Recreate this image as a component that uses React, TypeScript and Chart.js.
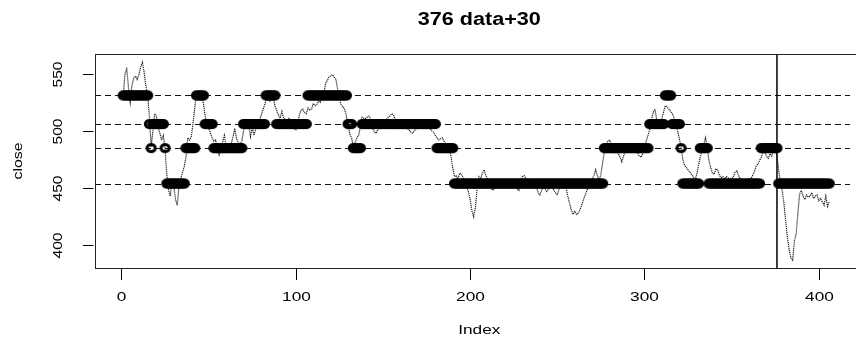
import React, { useEffect, useRef } from "react";
import { Chart, registerables } from "chart.js";

Chart.register(...registerables);

const TITLE = "376 data+30";
const X_LABEL = "Index";
const Y_LABEL = "close";
const xTicks = [0, 100, 200, 300, 400];
const yTicks = [400, 450, 500, 550];
const levels = [531, 506, 485, 454];
const splitIndex = 376;

const close = [
  531, 550, 554, 538, 525, 540, 546, 548, 545, 549,
  556, 560, 551, 539, 531, 512, 486, 500, 515, 513,
  503, 498, 492, 496, 484, 462, 448, 443, 457, 452,
  440, 435, 452, 458, 464, 469, 477, 494, 492, 495,
  506, 520, 532, 531, 530, 532, 524, 513, 505, 502,
  498, 494, 491, 492, 484, 479, 483, 490, 496, 487,
  485, 484, 489, 495, 502, 493, 490, 488, 491, 500,
  506, 509, 505, 495, 503, 496, 502, 506, 508, 513,
  518, 522, 527, 528, 526, 527, 530, 522, 518, 514,
  511, 517, 511, 510, 509, 511, 508, 505, 502, 501,
  506, 514, 518, 519, 516, 515, 520, 518, 519, 524,
  522, 523, 526, 525, 528, 532, 541, 544, 547, 548,
  549, 547, 545, 536, 528, 523, 521, 519, 513, 505,
  497, 494, 486, 490, 494, 496, 503, 512, 511, 511,
  512, 513, 510, 503, 499, 498, 501, 504, 507, 507,
  509, 510, 512, 513, 515, 514, 510, 509, 508, 509,
  507, 505, 503, 502, 501, 499, 498, 500, 502, 503,
  505, 505, 504, 505, 504, 503, 502, 500, 499, 496,
  494, 492, 493, 494, 491, 489, 487, 484, 478, 468,
  460, 461, 458, 463, 462, 459, 455, 451, 447, 440,
  430, 425, 433, 450, 460, 458, 463, 466, 461, 458,
  455, 450, 448, 450, 454, 453, 452, 454, 455, 453,
  456, 452, 451, 453, 455, 452, 449, 448, 456, 460,
  461, 458, 457, 456, 457, 456, 455, 451, 446, 444,
  448, 451, 449, 447, 449, 451, 452, 448, 446, 444,
  449, 452, 454, 453, 451, 443, 437, 431, 427, 430,
  427, 428, 431, 435, 440, 444, 448, 452, 456, 458,
  461, 466, 461, 457, 462, 472, 482, 488, 491, 492,
  488, 484, 481, 483, 480, 477, 473, 478, 482, 484,
  483, 482, 483, 484, 482, 481, 478, 477, 480, 486,
  491, 496, 501, 510, 516, 519, 510, 502, 505, 511,
  517, 522, 521, 519, 517, 515, 511, 507, 500, 493,
  486, 475, 470, 468, 466, 464, 462, 460, 457, 462,
  470, 477, 483, 488, 494, 486, 474, 468, 463, 462,
  467, 466, 461, 459, 460, 458, 460, 459, 457, 458,
  460, 464, 465, 461, 458, 457, 456, 455, 457, 458,
  458, 461, 464, 469, 471, 474, 477, 482, 482, 478,
  476, 480, 478, 482, 483, 479, 465, 455, 448, 437,
  421, 407, 396, 389, 387, 404, 410, 428, 445, 448,
  443, 440, 444, 442, 443, 446, 441, 443, 444, 439,
  441, 438, 435, 443, 434, 438,
];

// state runs: index where each run starts, and the level of that run
const stateStart = [1, 16, 17, 18, 25, 26, 37, 43, 48, 53, 70, 83, 89, 107, 130, 133, 138, 181, 191, 277, 303, 312, 316, 321, 322, 332, 337, 367, 377];
const stateLevel = [531, 506, 485, 506, 485, 454, 485, 531, 506, 485, 506, 531, 506, 531, 506, 485, 506, 485, 454, 485, 506, 531, 506, 485, 454, 485, 454, 485, 454];

const FONT = '"Liberation Sans", Arial, Helvetica, sans-serif';

function drawText(
  ctx: CanvasRenderingContext2D,
  text: string,
  x: number,
  y: number,
  size: number,
  stretch: number,
  bold = false,
  rotate = false
) {
  ctx.save();
  ctx.translate(x, y);
  if (rotate) ctx.rotate(-Math.PI / 2);
  ctx.scale(stretch, 1);
  ctx.font = `${bold ? "bold " : ""}${size}px ${FONT}`;
  ctx.textAlign = "center";
  ctx.textBaseline = "alphabetic";
  ctx.fillStyle = "#000";
  ctx.fillText(text, 0, 0);
  ctx.restore();
}

const framePlugin = {
  id: "rframe",
  beforeDatasetsDraw(chart: any) {
    const { ctx, chartArea: a, scales } = chart;
    const ys = scales.y;
    ctx.save();
    ctx.beginPath();
    ctx.rect(a.left, a.top, a.right - a.left, a.bottom - a.top);
    ctx.clip();
    ctx.strokeStyle = "#111";
    ctx.lineWidth = 1;
    ctx.setLineDash([6, 4]);
    for (const lv of levels) {
      const y = Math.round(ys.getPixelForValue(lv)) + 0.5;
      ctx.beginPath();
      ctx.moveTo(a.left, y);
      ctx.lineTo(a.right, y);
      ctx.stroke();
    }
    ctx.restore();
  },
  afterDatasetsDraw(chart: any) {
    const { ctx, chartArea: a, scales } = chart;
    const xs = scales.x;
    const ys = scales.y;
    ctx.save();
    ctx.strokeStyle = "#000";
    ctx.lineWidth = 1.5;
    const vx = xs.getPixelForValue(splitIndex);
    ctx.beginPath();
    ctx.moveTo(vx, a.top);
    ctx.lineTo(vx, a.bottom);
    ctx.stroke();
    ctx.lineWidth = 1;
    ctx.strokeStyle = "#222";
    ctx.strokeRect(a.left + 0.5, a.top + 0.5, a.right - a.left + 20, a.bottom - a.top);
    ctx.strokeStyle = "#000";
    for (const t of xTicks) {
      const x = Math.round(xs.getPixelForValue(t)) + 0.5;
      ctx.beginPath();
      ctx.moveTo(x, a.bottom + 1);
      ctx.lineTo(x, a.bottom + 12);
      ctx.stroke();
      drawText(ctx, String(t), x, a.bottom + 33, 12.5, 1.38);
    }
    for (const t of yTicks) {
      const y = Math.round(ys.getPixelForValue(t)) + 0.5;
      ctx.beginPath();
      ctx.moveTo(a.left - 12, y);
      ctx.lineTo(a.left - 1.5, y);
      ctx.stroke();
      drawText(ctx, String(t), a.left - 33, y, 12, 1.3, false, true);
    }
    const cx = a.left + (863.5 - a.left) / 2;
    drawText(ctx, X_LABEL, cx, 334, 12.5, 1.38);
    drawText(ctx, Y_LABEL, 22, (a.top + a.bottom) / 2, 12, 1.32, false, true);
    drawText(ctx, TITLE, cx, 25, 18, 1.2, true);
    ctx.restore();
  },
};

export default function App() {
  const ref = useRef<HTMLCanvasElement | null>(null);
  useEffect(() => {
    const canvas = ref.current;
    if (!canvas) return;
    const ring = document.createElement("canvas");
    ring.width = 13;
    ring.height = 12;
    const rc = ring.getContext("2d")!;
    rc.strokeStyle = "#000";
    rc.lineWidth = 3;
    rc.beginPath();
    rc.ellipse(6.5, 6, 4.1, 3.6, 0, 0, Math.PI * 2);
    rc.stroke();

    const closePts = close.map((v, i) => ({ x: i + 1, y: v }));
    const statePts: { x: number; y: number }[] = [];
    for (let r = 0; r < stateStart.length; r++) {
      const end = r + 1 < stateStart.length ? stateStart[r + 1] - 1 : close.length;
      for (let i = stateStart[r]; i <= end; i++) statePts.push({ x: i, y: stateLevel[r] });
    }

    const chart = new Chart(canvas, {
      type: "line",
      data: {
        datasets: [
          {
            data: statePts,
            showLine: false,
            pointStyle: ring as any,
            pointRadius: 5,
            order: 1,
          } as any,
          {
            data: closePts,
            borderColor: "#222",
            borderWidth: 1.2,
            borderDash: [1.2, 0.8],
            pointRadius: 0,
            tension: 0,
            order: 2,
          } as any,
        ],
      },
      options: {
        animation: false,
        responsive: false,
        devicePixelRatio: 1,
        events: [],
        layout: { padding: { left: 95, top: 54, right: 0, bottom: 74 } },
        scales: {
          x: { type: "linear", min: -15.2, max: 417.9, display: false },
          y: { type: "linear", min: 380.2, max: 567.2, display: false },
        },
        plugins: {
          legend: { display: false },
          tooltip: { enabled: false },
          title: { display: false },
        },
      },
      plugins: [framePlugin],
    });
    return () => chart.destroy();
  }, []);

  return (
    <div style={{ position: "absolute", left: 0, top: 0, width: 856, height: 342, background: "#fff", overflow: "hidden" }}>
      <canvas ref={ref} width={856} height={342} style={{ width: 856, height: 342, display: "block" }} />
    </div>
  );
}
